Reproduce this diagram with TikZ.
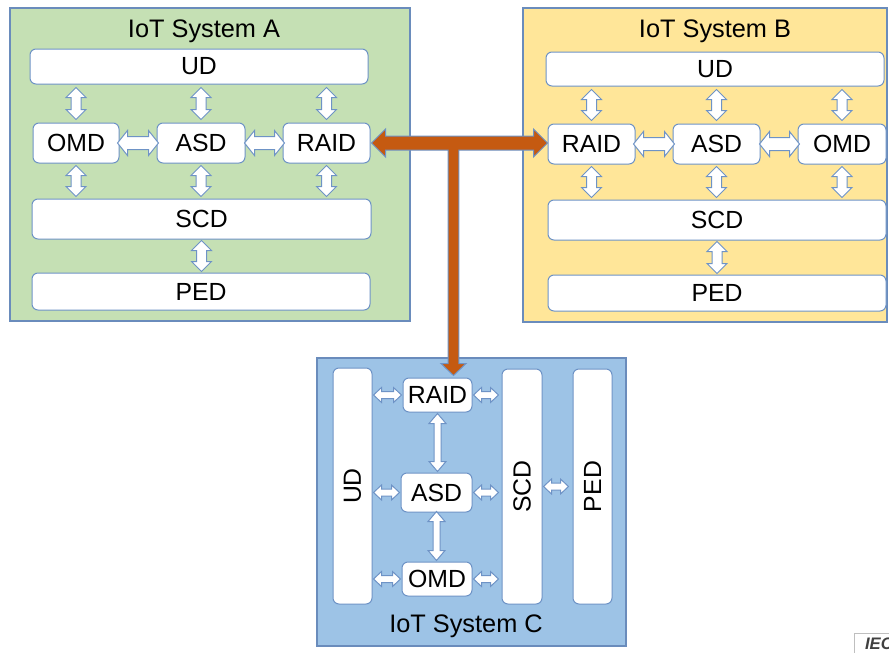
\documentclass[tikz,border=0pt]{standalone}
\usepackage{fontspec}
\setmainfont{Liberation Sans}
\usetikzlibrary{calc}
\definecolor{grA}{HTML}{C5E0B4}
\definecolor{ylB}{HTML}{FFE699}
\definecolor{blC}{HTML}{9DC3E6}
\definecolor{pbord}{HTML}{6A8CBC}
\definecolor{bbord}{HTML}{6E93C6}
\definecolor{orng}{HTML}{C55A11}
\newcommand\lab{\fontsize{18.6}{22}\selectfont}
% box from pixel corners: name, x1, y1, x2, y2, style, text
\newcommand\bx[7]{\node[#6, minimum width={(#4-#2)*0.75pt}, minimum height={(#5-#3)*0.75pt}] (#1) at ({(#2+#4)/2},{(#3+#5)/2}) {#7};}
% vertical double block arrow: top point, bottom point, shaft half, head half, head length (px)
\newcommand\varr[5]{\draw[blk] let \p1=(#1), \p2=(#2) in
  (\x1,\y1) -- (\x1+#4*0.75pt,\y1-#5*0.75pt) -- (\x1+#3*0.75pt,\y1-#5*0.75pt)
  -- (\x1+#3*0.75pt,\y2+#5*0.75pt) -- (\x1+#4*0.75pt,\y2+#5*0.75pt) -- (\x1,\y2)
  -- (\x1-#4*0.75pt,\y2+#5*0.75pt) -- (\x1-#3*0.75pt,\y2+#5*0.75pt)
  -- (\x1-#3*0.75pt,\y1-#5*0.75pt) -- (\x1-#4*0.75pt,\y1-#5*0.75pt) -- cycle;}
% horizontal double block arrow: left point, right point, shaft half, head half, head length (px)
\newcommand\harr[5]{\draw[blk] let \p1=(#1), \p2=(#2) in
  (\x1,\y1) -- (\x1+#5*0.75pt,\y1+#4*0.75pt) -- (\x1+#5*0.75pt,\y1+#3*0.75pt)
  -- (\x2-#5*0.75pt,\y1+#3*0.75pt) -- (\x2-#5*0.75pt,\y1+#4*0.75pt) -- (\x2,\y1)
  -- (\x2-#5*0.75pt,\y1-#4*0.75pt) -- (\x2-#5*0.75pt,\y1-#3*0.75pt)
  -- (\x1+#5*0.75pt,\y1-#3*0.75pt) -- (\x1+#5*0.75pt,\y1-#4*0.75pt) -- cycle;}
\begin{document}
\begin{tikzpicture}[x=0.75pt,y=-0.75pt,
  pan/.style={draw=pbord, line width=0.9pt, inner sep=0pt},
  bx/.style={draw=bbord, fill=white, rounded corners=4.5pt, line width=0.75pt, inner sep=0pt, font=\lab},
  ttl/.style={font=\fontsize{19}{22}\selectfont, anchor=base, inner sep=0pt},
  blk/.style={draw=bbord, fill=white, line width=0.75pt, line join=miter},
  org/.style={draw=bbord, fill=orng, line width=0.75pt, line join=miter}]
\useasboundingbox (0,0) rectangle (889,653);
\fill[white] (0,0) rectangle (889,653);
% panels
\bx{panA}{10}{8}{410}{321}{pan, fill=grA}{}
\bx{panB}{523}{8}{887}{322}{pan, fill=ylB}{}
\bx{panC}{317}{358}{626}{646}{pan, fill=blC}{}
\node[ttl] (tA) at (204,37) {IoT System A};
\node[ttl] (tB) at (715,37) {IoT System B};
\node[ttl] (tC) at (466,632) {IoT System C};
% system A
\bx{udA}{30}{49}{368}{84}{bx}{UD}
\bx{omdA}{33}{123}{119}{163}{bx}{OMD}
\bx{asdA}{157}{123}{245}{163}{bx}{ASD}
\bx{raidA}{283}{123}{370}{163}{bx}{RAID}
\bx{scdA}{32}{199}{371}{239}{bx}{SCD}
\bx{pedA}{32}{273}{370}{310}{bx}{PED}
% system B
\bx{udB}{546}{52}{884}{86}{bx}{UD}
\bx{raidB}{548}{124}{635}{164}{bx}{RAID}
\bx{asdB}{673}{124}{760}{164}{bx}{ASD}
\bx{omdB}{798}{124}{886}{164}{bx}{OMD}
\bx{scdB}{548}{200}{886}{240}{bx}{SCD}
\bx{pedB}{548}{275}{886}{311}{bx}{PED}
% system C
\node[bx, rotate=90, minimum width={236*0.75pt}, minimum height={39*0.75pt}] (udC) at (352.5,486) {UD};
\node[bx, rotate=90, minimum width={235*0.75pt}, minimum height={40*0.75pt}] (scdC) at (522,486.5) {SCD};
\node[bx, rotate=90, minimum width={235*0.75pt}, minimum height={39*0.75pt}] (pedC) at (592.5,486.5) {PED};
\bx{raidC}{403}{378}{472}{412}{bx}{RAID}
\bx{asdC}{401}{473}{472}{512}{bx}{ASD}
\bx{omdC}{402}{562}{472}{596}{bx}{OMD}
% orange T connector
\draw[org] let \p1=($(raidA.east)+(1,0)$), \p2=(raidB.west), \p3=($(raidC.north)+(16,-2)$) in
  (\x1,\y1) -- (\x1+10.5pt,\y1+10.5pt) -- (\x1+10.5pt,\y1+5.25pt)
  -- (\x2-10.5pt,\y1+5.25pt) -- (\x2-10.5pt,\y1+10.5pt) -- (\x2,\y1)
  -- (\x2-10.5pt,\y1-10.5pt) -- (\x2-10.5pt,\y1-5.25pt)
  -- (\x3+4.1pt,\y1-5.25pt) -- (\x3+4.1pt,\y3+9pt) -- (\x3+9.4pt,\y3+9pt) -- (\x3,\y3)
  -- (\x3-9.4pt,\y3+9pt) -- (\x3-4.1pt,\y3+9pt) -- (\x3-4.1pt,\y1-5.25pt)
  -- (\x1+10.5pt,\y1-5.25pt) -- (\x1+10.5pt,\y1-10.5pt) -- cycle;
% system A arrows
\foreach \nm in {omdA,asdA,raidA}{
  \varr{$(udA.south-|\nm.north)+(0,3)$}{$(\nm.north)+(0,-3)$}{5}{10}{10}
  \varr{$(\nm.south)+(0,2)$}{$(scdA.north-|\nm.south)+(0,-2)$}{5}{10}{10}
}
\varr{$(scdA.south)+(0,1)$}{$(pedA.north-|scdA.south)+(0,-1)$}{5}{10}{10}
\harr{$(omdA.east)+(-2,0)$}{$(asdA.west)+(2,0)$}{6.5}{12.5}{10}
\harr{$(asdA.east)+(-1,0)$}{$(raidA.west)+(2,0)$}{6.5}{12.5}{10}
% system B arrows
\foreach \nm in {raidB,asdB,omdB}{
  \varr{$(udB.south-|\nm.north)+(0,3)$}{$(\nm.north)+(0,-3)$}{5}{10}{10}
  \varr{$(\nm.south)+(0,2)$}{$(scdB.north-|\nm.south)+(0,-2)$}{5}{10}{10}
}
\varr{$(scdB.south)+(0,1)$}{$(pedB.north-|scdB.south)+(0,-1)$}{5}{10}{10}
\harr{$(raidB.east)+(-2,0)$}{$(asdB.west)+(2,0)$}{6.5}{12.5}{10}
\harr{$(asdB.east)+(-1,0)$}{$(omdB.west)+(2,0)$}{6.5}{12.5}{10}
% system C arrows
\foreach \nm in {raidC,asdC,omdC}{
  \harr{$(\nm.west-|udC.south)+(1,0)$}{$(\nm.west)+(-1,0)$}{3.5}{7.5}{8}
  \harr{$(\nm.east)+(1,0)$}{$(\nm.east-|scdC.north)+(-3,0)$}{3.5}{7.5}{8}
}
\harr{$(scdC.south)+(1,0)$}{$(pedC.north|-scdC.south)+(-4,0)$}{3.5}{7.5}{8}
\varr{$(raidC.south)+(0,1)$}{$(asdC.north)+(0,-1)$}{3.5}{8.5}{10}
\varr{$(asdC.south)+(0,-1)$}{$(omdC.north)+(0,-1)$}{3.5}{8.5}{10}
% corner mark
\node[draw=gray!50, line width=0.6pt, anchor=north west, inner xsep=8pt, inner ysep=3pt, text=black!75,
  font=\fontsize{12.5}{14}\selectfont\bfseries\itshape] (iec) at (854,633) {IEC};
\end{tikzpicture}
\end{document}
